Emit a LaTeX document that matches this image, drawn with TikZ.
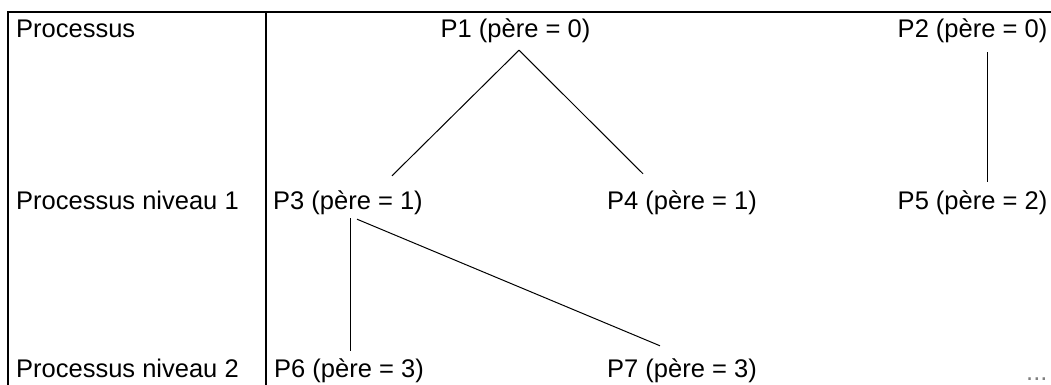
\documentclass[tikz,border=0pt]{standalone}
\usepackage{fontspec}
\setmainfont{Liberation Sans}
\usepackage{tikz}
\usetikzlibrary{positioning}

\begin{document}
\begin{tikzpicture}[
  x=1pt, y=1pt,
  frame/.style={line width=2pt},
  lvl/.style={font=\fontsize{25.5}{30}\selectfont, anchor=base west,
              inner sep=0pt},
  proc/.style={font=\fontsize{25.5}{30}\selectfont, anchor=base,
               inner sep=0pt, text height=19pt, text depth=5.5pt},
  edge/.style={line width=1pt},
]
  \useasboundingbox (0,0) rectangle (1051,385);

  % --- Frame ---
  \draw[frame] (8,0) -- (8,373) -- (1051,373);
  \draw[frame] (266,373) -- (266,0);

  % --- Level labels ---
  \node[lvl] (lvl0) at (16,347) {Processus};
  \node[lvl] (lvl1) at (16,175) {Processus niveau 1};
  \node[lvl] (lvl2) at (16,7)   {Processus niveau 2};

  % --- Processes ---
  \node[proc] (p1) at (515.5,347) {P1 (père = 0)};
  \node[proc] (p2) at (972.5,347) {P2 (père = 0)};
  \node[proc] (p3) at (348,175)   {P3 (père = 1)};
  \node[proc] (p4) at (682,175)   {P4 (père = 1)};
  \node[proc] (p5) at (972.5,175) {P5 (père = 2)};
  \node[proc] (p6) at (349,7)     {P6 (père = 3)};
  \node[proc] (p7) at (682,7)     {P7 (père = 3)};
  \node[lvl, text=gray] (more) at (1026,4) {...};

  % --- Parent links ---
  \draw[edge] ([shift={(3.5,-6.5)}]p1.south) -- ([shift={(44,15)}]p3.north);
  \draw[edge] ([shift={(3.5,-6.5)}]p1.south) -- ([shift={(-39,17)}]p4.north);
  \draw[edge] ([shift={(14.5,-8.5)}]p2.south) -- ([shift={(14.5,9)}]p5.north);
  \draw[edge] ([shift={(2,-2.5)}]p3.south) -- ([shift={(1,8)}]p6.north);
  \draw[edge] ([shift={(9,-3.5)}]p3.south) -- ([shift={(-22,13)}]p7.north);
\end{tikzpicture}
\end{document}
